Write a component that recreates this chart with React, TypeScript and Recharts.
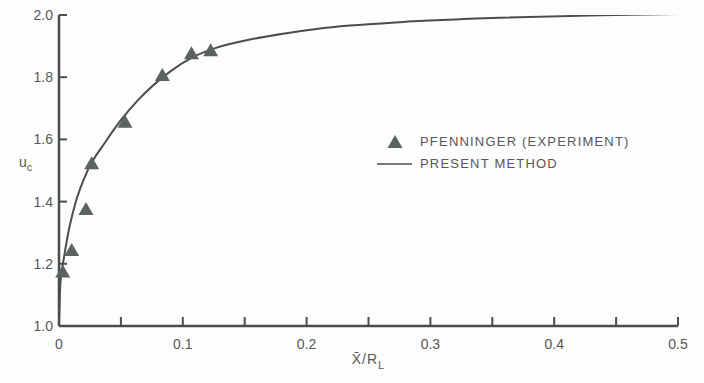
import React from "react";
import { ComposedChart, Line, Scatter, XAxis, YAxis } from "recharts";

// Pfenninger experiment points (x̄/R_L, u_c)
const expX = [0.003, 0.0103, 0.0218, 0.0264, 0.0533, 0.0835, 0.107, 0.1225];
const expU = [1.175, 1.244, 1.376, 1.523, 1.657, 1.807, 1.877, 1.887];

// present method curve
const curveX = [0, 0.001, 0.0024, 0.004, 0.0075, 0.0129, 0.0237, 0.0372, 0.0506, 0.064, 0.0897, 0.107, 0.1274, 0.154, 0.181, 0.208, 0.235, 0.275, 0.356, 0.437, 0.5];
const curveU = [1.0, 1.13, 1.18, 1.22, 1.3, 1.39, 1.505, 1.59, 1.665, 1.727, 1.818, 1.862, 1.895, 1.921, 1.94, 1.955, 1.966, 1.977, 1.991, 1.999, 2.003];

const xTicks = [0, 0.05, 0.1, 0.15, 0.2, 0.25, 0.3, 0.35, 0.4, 0.45, 0.5];
const yTicks = [1.0, 1.2, 1.4, 1.6, 1.8, 2.0];

const expData = expX.map((x, i) => ({ x, u: expU[i] }));
const curveData = curveX.map((x, i) => ({ x, u: curveU[i] }));

const INK = "#4a4d4d";
const TEXT = "#555858";
const FONT = "'Liberation Sans', Arial, sans-serif";

const Tri = (p: any) => {
  const { cx, cy } = p;
  if (cx == null || cy == null) return null;
  return <polygon points={`${cx - 7.5},${cy + 6} ${cx + 7.5},${cy + 6} ${cx},${cy - 7}`} fill="#5c6161" />;
};

const fmtX = (v: number) => {
  const r = Math.round(v * 100);
  if (r % 10 !== 0) return "";
  return r === 0 ? "0" : (r / 100).toFixed(1);
};

function LegendBox() {
  return (
    <div style={{ position: "absolute", left: 376, top: 131, fontFamily: FONT, fontSize: 13, color: TEXT, letterSpacing: 1.2, lineHeight: "22px" }}>
      <div style={{ display: "flex", alignItems: "center" }}>
        <svg width={44} height={16}>
          <polygon points="11.5,14 26.5,14 19,1" fill="#5c6161" />
        </svg>
        <span>PFENNINGER (EXPERIMENT)</span>
      </div>
      <div style={{ display: "flex", alignItems: "center" }}>
        <svg width={44} height={16}>
          <line x1={1} x2={36} y1={8} y2={8} stroke={INK} strokeWidth={1.5} />
        </svg>
        <span>PRESENT METHOD</span>
      </div>
    </div>
  );
}

const XLabel = (p: any) => {
  const vb = p.viewBox || {};
  const cx = vb.x + vb.width / 2;
  return (
    <text x={cx} y={vb.y + 38} textAnchor="middle" fontFamily={FONT} fontSize={14} fill={TEXT} letterSpacing={1}>
      <tspan>{"X\u0304/R"}</tspan>
      <tspan dy={5} fontSize={11}>L</tspan>
    </text>
  );
};

const YLabel = (p: any) => {
  const vb = p.viewBox || {};
  return (
    <text x={19} y={vb.y + 152} fontFamily={FONT} fontSize={14} fill={TEXT}>
      <tspan>u</tspan>
      <tspan dy={4} fontSize={11}>c</tspan>
    </text>
  );
};

export default function App() {
  return (
    <div style={{ position: "absolute", left: 0, top: 0, width: 704, height: 383, background: "#fdfdfd" }}>
      <ComposedChart width={704} height={383} margin={{ top: 15, right: 26, bottom: 0, left: 0 }}>
        <XAxis
          dataKey="x"
          type="number"
          domain={[0, 0.5]}
          ticks={xTicks}
          tickFormatter={fmtX}
          interval={0}
          tickSize={-9}
          tickMargin={22}
          axisLine={{ stroke: INK, strokeWidth: 2.5 }}
          tickLine={{ stroke: INK, strokeWidth: 2 }}
          tick={{ fill: TEXT, fontSize: 14, fontFamily: FONT }}
          height={57}
          label={<XLabel />}
        />
        <YAxis
          dataKey="u"
          type="number"
          domain={[1, 2]}
          allowDataOverflow
          ticks={yTicks}
          tickFormatter={(v: number) => v.toFixed(1)}
          interval={0}
          tickSize={-8}
          tickMargin={14}
          axisLine={{ stroke: INK, strokeWidth: 2.5 }}
          tickLine={{ stroke: INK, strokeWidth: 2 }}
          tick={{ fill: TEXT, fontSize: 14, fontFamily: FONT }}
          width={59}
          label={<YLabel />}
        />
        <Line
          data={curveData}
          dataKey="u"
          type="monotone"
          stroke={INK}
          strokeWidth={2}
          dot={false}
          isAnimationActive={false}
        />
        <Scatter data={expData} dataKey="u" shape={<Tri />} isAnimationActive={false} />
      </ComposedChart>
      <LegendBox />
    </div>
  );
}
